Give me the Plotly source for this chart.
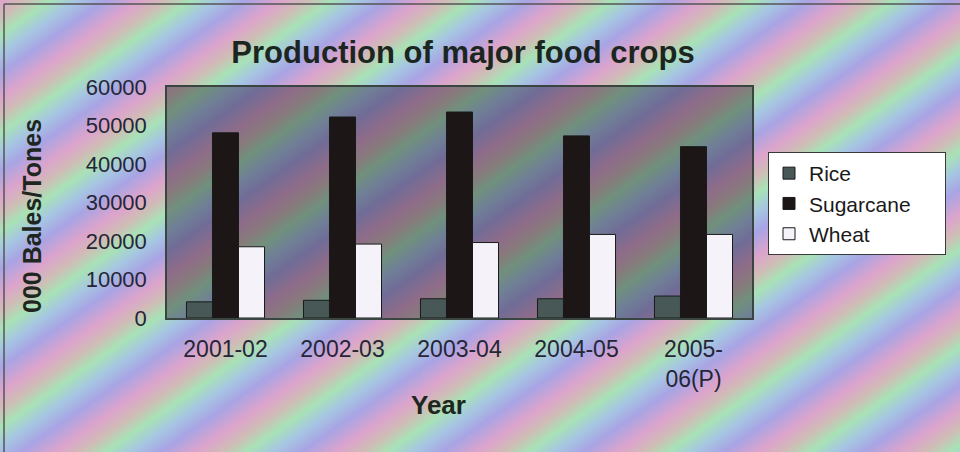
import base64
import plotly.graph_objects as go

# ---- data ----
years = ["2001-02", "2002-03", "2003-04", "2004-05", "2005-<br>06(P)"]
series_names = ["Rice", "Sugarcane", "Wheat"]
rice = [4200, 4600, 5000, 5000, 5700]
sugarcane = [48100, 52200, 53500, 47300, 44500]
wheat = [18500, 19200, 19600, 21700, 21700]
y_ticks = [0, 10000, 20000, 30000, 40000, 50000, 60000]

W, H = 960, 452
L, R, T, B = 167, 208, 87, 134
PW, PH = W - L - R, H - T - B


def px2x(px):
    return (px - L) / PW


def px2y(py):
    return (H - B - py) / PH


# striped pastel background (decoration)
svg = f'''<svg xmlns="http://www.w3.org/2000/svg" width="{W}" height="{H}" viewBox="0 0 {W} {H}">
<defs><linearGradient id="g" gradientUnits="userSpaceOnUse" x1="0" y1="0" x2="46" y2="66" spreadMethod="repeat">
<stop offset="0" stop-color="#dca4cc"/>
<stop offset="0.18" stop-color="#d0bcb6"/>
<stop offset="0.36" stop-color="#a8e2b6"/>
<stop offset="0.55" stop-color="#a6c6e2"/>
<stop offset="0.75" stop-color="#a8a4e4"/>
<stop offset="1" stop-color="#dca4cc"/>
</linearGradient></defs>
<rect width="{W}" height="{H}" fill="url(#g)"/>
</svg>'''
src = "data:image/svg+xml;base64," + base64.b64encode(svg.encode()).decode()

FONT = "Liberation Sans, Arial, sans-serif"
PAD = "\u00a0" * 5  # widen legend box

fig = go.Figure()
fig.add_bar(name=series_names[0], x=years, y=rice,
            marker=dict(color="#475857", line=dict(color="#1a1a1a", width=1)))
fig.add_bar(name=series_names[1] + PAD, x=years, y=sugarcane,
            marker=dict(color="#1c1616", line=dict(color="#1a1a1a", width=1)))
fig.add_bar(name=series_names[2], x=years, y=wheat,
            marker=dict(color="#f6f2fa", line=dict(color="#1a1a1a", width=1)))

fig.update_layout(
    width=W, height=H,
    margin=dict(l=L, r=R, t=T, b=B, pad=0),
    paper_bgcolor="#c4b0cc",
    plot_bgcolor="rgba(0,0,0,0)",
    barmode="group", bargap=0.333, bargroupgap=0,
    font=dict(family=FONT, color="#262636"),
    title=dict(text="<b>Production of major food crops</b>", x=463 / W, xanchor="center",
               y=1 - 52 / H, yanchor="middle", yref="container",
               font=dict(size=31, color="#1c2620", family=FONT)),
    legend=dict(x=px2x(768), y=px2y(152), xanchor="left", yanchor="top",
                bgcolor="#ffffff", bordercolor="#3a3a3a", borderwidth=1,
                font=dict(size=21, color="#1a1a1a", family=FONT),
                tracegroupgap=4, itemwidth=30),
    showlegend=True,
    images=[dict(source=src, xref="paper", yref="paper", x=px2x(0), y=px2y(0),
                 sizex=W / PW, sizey=H / PH, xanchor="left", yanchor="top",
                 sizing="stretch", layer="below")],
    shapes=[
        dict(type="rect", xref="paper", yref="paper", x0=0, x1=1, y0=0, y1=1,
             fillcolor="rgba(35,30,45,0.42)", line=dict(width=0), layer="below"),
        dict(type="line", xref="paper", yref="paper", x0=px2x(4), x1=px2x(961), y0=px2y(4), y1=px2y(4),
             line=dict(color="#555555", width=1.5)),
        dict(type="line", xref="paper", yref="paper", x0=px2x(4), x1=px2x(4), y0=px2y(4), y1=px2y(452),
             line=dict(color="#555555", width=1.5)),
    ],
    annotations=[
        dict(text="<b>000 Bales/Tones</b>", xref="paper", yref="paper", x=px2x(32), y=px2y(216),
             textangle=-90, showarrow=False, xanchor="center", yanchor="middle",
             font=dict(size=25, color="#1e2620", family=FONT)),
        dict(text="<b>Year</b>", xref="paper", yref="paper", x=px2x(438), y=px2y(405),
             showarrow=False, xanchor="center", yanchor="middle",
             font=dict(size=26, color="#1e2620", family=FONT)),
    ],
)

fig.update_xaxes(type="category", showgrid=False, showline=True, mirror=True, linecolor="#3a4440",
                 linewidth=1.5, ticks="", ticklabelstandoff=10, tickfont=dict(size=23, color="#262636"))
fig.update_yaxes(range=[0, 60000], tickvals=y_ticks, ticktext=[str(v) for v in y_ticks],
                 showgrid=False, zeroline=False, showline=True, mirror=True, linecolor="#3a4440",
                 linewidth=1.5, ticks="", ticklabelstandoff=14, tickfont=dict(size=22, color="#262636"))

fig.write_html("out.html")
